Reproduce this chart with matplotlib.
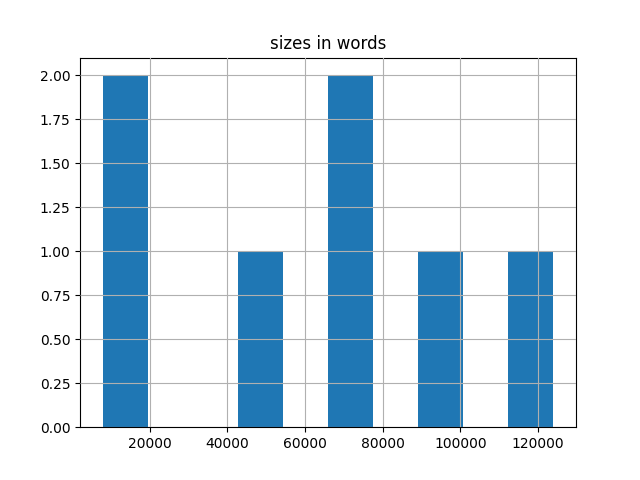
import matplotlib
matplotlib.use('Agg')
import matplotlib.pyplot as plt

# word counts of the texts
sizes = [7800, 15000, 48000, 70500, 74000, 95000, 124000]

fig, ax = plt.subplots(figsize=(6.4, 4.8), dpi=100)
ax.hist(sizes, bins=10)
ax.grid(True)
ax.set_axisbelow(False)
ax.set_title('sizes in words')
fig.savefig('out.png')
